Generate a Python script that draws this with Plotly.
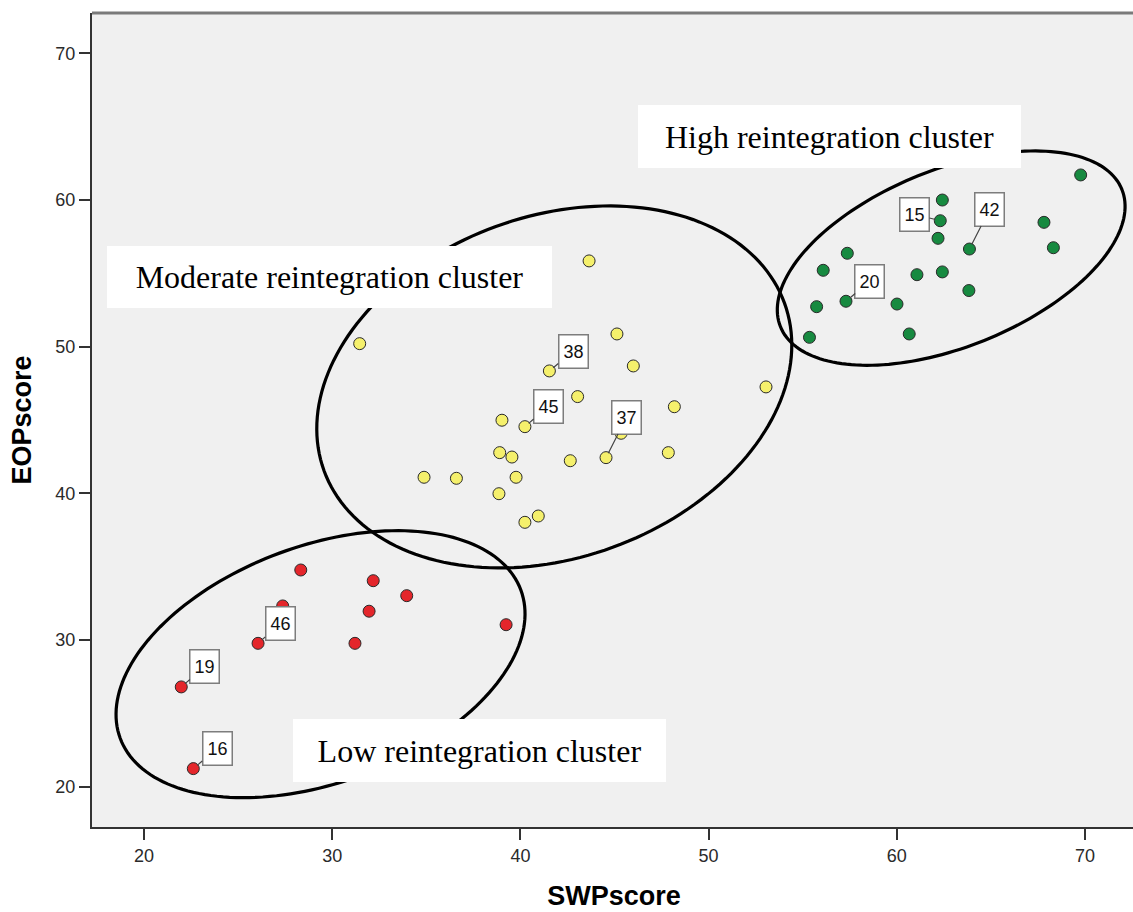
import numpy as np
import plotly.graph_objects as go

# ---------------- data ----------------
low_swp = [28.33, 32.18, 33.96, 27.37, 31.96, 39.24, 26.06, 31.21, 21.98, 22.62]
low_eop = [34.77, 34.04, 33.02, 32.32, 31.96, 31.04, 29.77, 29.77, 26.80, 21.23]

mod_swp = [43.65, 31.46, 45.13, 41.54, 46.00, 43.04, 53.05, 48.18, 39.02, 40.24, 45.35,
           38.90, 39.55, 42.65, 44.55, 47.86, 34.88, 36.60, 39.77, 38.86, 40.95, 40.24]
mod_eop = [55.84, 50.20, 50.86, 48.34, 48.68, 46.59, 47.25, 45.90, 44.98, 44.54, 44.09,
           42.77, 42.47, 42.22, 42.43, 42.77, 41.09, 41.02, 41.09, 39.97, 38.45, 38.02]

high_swp = [69.77, 62.42, 62.31, 67.82, 62.19, 63.86, 68.32, 57.37, 56.09, 61.07, 62.42,
            63.83, 55.74, 57.30, 60.01, 55.36, 60.66]
high_eop = [61.70, 59.99, 58.58, 58.47, 57.38, 56.65, 56.74, 56.36, 55.20, 54.90, 55.09,
            53.82, 52.72, 53.09, 52.90, 50.63, 50.86]

# case labels: id, cluster, index of the point in that cluster
case_ids = ["46", "19", "16", "38", "45", "37", "20", "42", "15"]
case_cluster = ["low", "low", "low", "mod", "mod", "mod", "high", "high", "high"]
case_index = [6, 8, 9, 3, 9, 14, 13, 5, 2]

cluster_names = ["Low reintegration cluster", "Moderate reintegration cluster",
                 "High reintegration cluster"]

x_ticks = [20, 30, 40, 50, 60, 70]
y_ticks = [20, 30, 40, 50, 60, 70]

# ---------------- layout constants ----------------
W, H = 1136, 912          # slightly wider than the window: right frame edge falls off-screen
ML, MR, MT, MB = 92, 0, 13, 85
X0 = 17.237
Y0, Y1 = 17.25, 72.74
PX_PER_X = 18.82
PW, PH = W - ML - MR, H - MT - MB
X1 = X0 + PW / PX_PER_X
SX = PW / (X1 - X0)
SY = PH / (Y1 - Y0)

colors = {"low": "#e4262b", "mod": "#f5f06c", "high": "#178a40"}
data = {"low": (low_swp, low_eop), "mod": (mod_swp, mod_eop), "high": (high_swp, high_eop)}

fig = go.Figure()
for key in ["low", "mod", "high"]:
    xs, ys = data[key]
    fig.add_trace(go.Scatter(
        x=xs, y=ys, mode="markers",
        marker=dict(size=12, color=colors[key], line=dict(width=1, color="#2a2a2a")),
        hoverinfo="x+y", showlegend=False))

# ---------------- cluster ellipses (drawn in pixel space) ----------------
ellipses = [  # center (data), semi-axes (px), rotation (deg)
    (29.38, 28.35, 213.6, 118.4, 20.3),
    (41.80, 47.25, 245.0, 170.7, 20.0),
    (62.89, 56.03, 184.0, 88.7, 21.9),
]
shapes = []
t = np.linspace(0, 2 * np.pi, 181)
for cx, cy, a, b, ang in ellipses:
    th = np.radians(ang)
    dx = a * np.cos(t) * np.cos(th) - b * np.sin(t) * np.sin(th)
    dy = a * np.cos(t) * np.sin(th) + b * np.sin(t) * np.cos(th)
    px = cx + dx / SX
    py = cy + dy / SY
    path = "M " + " L ".join(f"{u:.4f},{v:.4f}" for u, v in zip(px, py)) + " Z"
    shapes.append(dict(type="path", path=path, xref="x", yref="y",
                       line=dict(color="black", width=3.2), layer="above"))

# top frame line
shapes.append(dict(type="line", xref="paper", yref="paper", x0=0, x1=1, y0=1, y1=1,
                   line=dict(color="#7a7a7a", width=3), layer="above"))

annotations = []
# cluster text boxes
boxes = [  # center (data), width, height in px
    (37.83, 22.47, 373, 63),
    (29.86, 54.74, 445, 62),
    (56.42, 64.32, 383, 63),
]
for name, (bx, by, bw, bh) in zip(cluster_names, boxes):
    annotations.append(dict(
        x=bx, y=by, xref="x", yref="y", text=name, showarrow=False,
        width=bw, height=bh, bgcolor="white", borderwidth=0, borderpad=0,
        font=dict(family="Liberation Serif, Times New Roman, serif", size=32, color="black"),
        align="center", valign="middle"))

# case labels with leader lines
offsets = [(22, -19.6), (23.4, -20.2), (23.7, -20), (23.7, -19.7), (23.5, -20.4),
           (20.5, -40.4), (24, -20), (20.2, -39.8), (-25.6, -6.5)]
for cid, cl, idx, (ox, oy) in zip(case_ids, case_cluster, case_index, offsets):
    xs, ys = data[cl]
    annotations.append(dict(
        x=xs[idx], y=ys[idx], xref="x", yref="y", text=cid,
        showarrow=True, arrowhead=0, arrowwidth=1.2, arrowcolor="#444",
        ax=ox, ay=oy, standoff=5,
        bgcolor="white", bordercolor="#7d7d7d", borderwidth=1.5, borderpad=2,
        width=24, height=28,
        font=dict(family="Liberation Sans, Arial, sans-serif", size=18, color="#111")))

axis_font = dict(family="Liberation Sans, Arial, sans-serif", size=18, color="#2a2a2a")
title_font = dict(family="Liberation Sans, Arial, sans-serif", size=27, color="black")

fig.update_xaxes(range=[X0, X1], tickvals=x_ticks, ticks="outside", ticklen=11, tickwidth=2,
                 tickcolor="#333", showline=True, linecolor="#333", linewidth=2,
                 showgrid=False, zeroline=False, tickfont=axis_font,
                 title=dict(text="<b>SWPscore</b>", font=title_font, standoff=22))
fig.update_yaxes(range=[Y0, Y1], tickvals=y_ticks, ticks="outside", ticklen=11, tickwidth=2,
                 tickcolor="#333", showline=True, linecolor="#333", linewidth=2,
                 showgrid=False, zeroline=False, tickfont=axis_font,
                 title=dict(text="<b>EOPscore</b>", font=title_font, standoff=16))

fig.update_layout(width=W, height=H, margin=dict(l=ML, r=MR, t=MT, b=MB, autoexpand=False),
                  plot_bgcolor="#f0f0f0", paper_bgcolor="white", showlegend=False,
                  shapes=shapes, annotations=annotations)

fig.write_html("out.html", config={"displayModeBar": False},
               post_script=("document.documentElement.style.overflow='hidden';"
                            "document.body.style.margin='0';"
                            "document.body.style.overflow='hidden';"))
